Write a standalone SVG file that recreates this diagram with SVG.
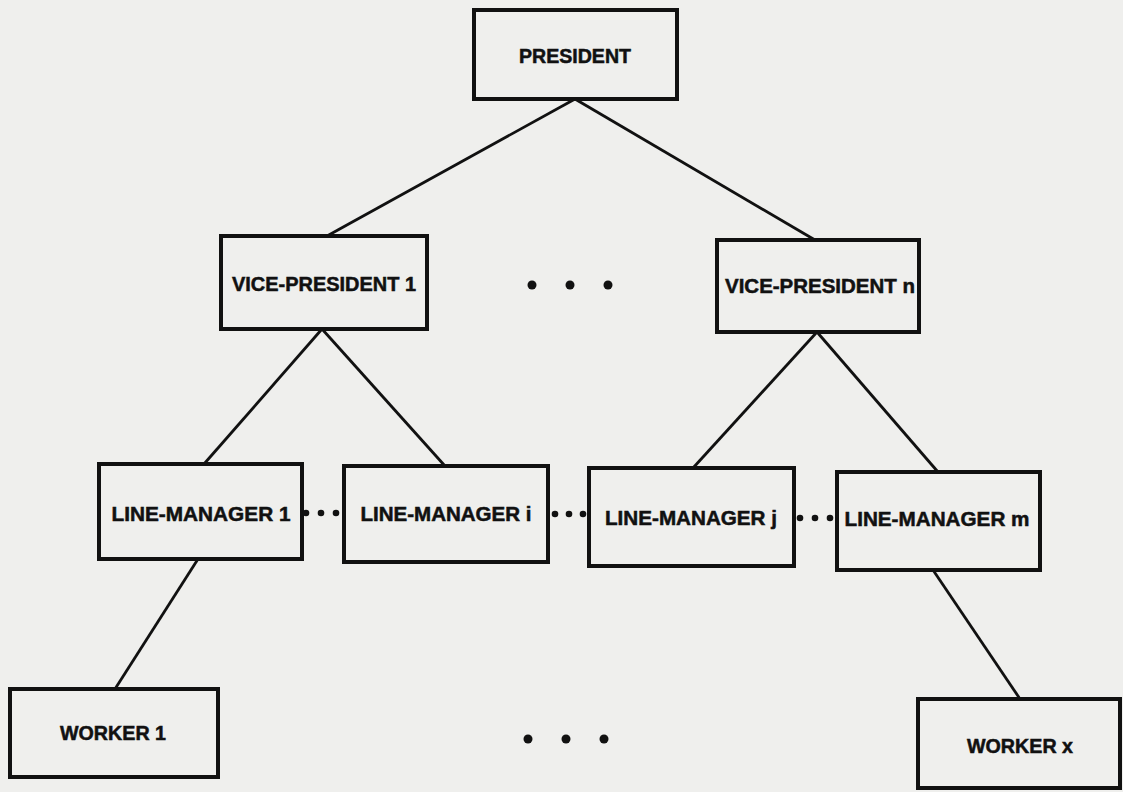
<svg xmlns="http://www.w3.org/2000/svg" width="1123" height="792" viewBox="0 0 1123 792">
<style>
.box{fill:none;stroke:#111;stroke-width:4;stroke-linejoin:miter}
.lbl{font-family:"Liberation Sans",Arial,sans-serif;font-weight:bold;font-size:19.5px;fill:#111;stroke:#111;stroke-width:0.5;text-anchor:middle}
.ln{stroke:#111;stroke-width:2.8;fill:none}
.dot{fill:#111}
</style>
<rect width="1123" height="792" fill="#efefed"/>
<g id="connectors">
<line class="ln" x1="575" y1="99" x2="327" y2="236"/>
<line class="ln" x1="575" y1="99" x2="815" y2="240"/>
<line class="ln" x1="322" y1="329" x2="204" y2="464"/>
<line class="ln" x1="322" y1="329" x2="445" y2="466"/>
<line class="ln" x1="817" y1="332" x2="693" y2="468"/>
<line class="ln" x1="817" y1="332" x2="938" y2="472"/>
<line class="ln" x1="198" y1="559" x2="115" y2="689"/>
<line class="ln" x1="933" y1="570" x2="1020" y2="699"/>
</g>
<g id="president">
<rect class="box" x="474" y="10" width="203" height="89"/>
<text class="lbl" x="575" y="63" textLength="112" lengthAdjust="spacingAndGlyphs">PRESIDENT</text>
</g>
<g id="vp1">
<rect class="box" x="221" y="236" width="206" height="93"/>
<text class="lbl" x="324" y="291" textLength="184" lengthAdjust="spacingAndGlyphs">VICE-PRESIDENT 1</text>
</g>
<g id="vp-dots">
<circle class="dot" cx="532" cy="285" r="4.5"/>
<circle class="dot" cx="570" cy="285" r="4.5"/>
<circle class="dot" cx="608" cy="285" r="4.5"/>
</g>
<g id="vpn">
<rect class="box" x="717" y="240" width="202" height="92"/>
<text class="lbl" x="820" y="293" textLength="190" lengthAdjust="spacingAndGlyphs">VICE-PRESIDENT n</text>
</g>
<g id="lm1">
<rect class="box" x="99" y="464" width="203" height="95"/>
<text class="lbl" x="201" y="521" textLength="179" lengthAdjust="spacingAndGlyphs">LINE-MANAGER 1</text>
</g>
<g id="lm-dots-1">
<circle class="dot" cx="306" cy="513" r="3.3"/>
<circle class="dot" cx="321" cy="513" r="3.3"/>
<circle class="dot" cx="336" cy="513" r="3.3"/>
</g>
<g id="lmi">
<rect class="box" x="344" y="466" width="204" height="96"/>
<text class="lbl" x="446" y="521" textLength="171" lengthAdjust="spacingAndGlyphs">LINE-MANAGER i</text>
</g>
<g id="lm-dots-2">
<circle class="dot" cx="555" cy="514" r="3.3"/>
<circle class="dot" cx="569" cy="514" r="3.3"/>
<circle class="dot" cx="583" cy="514" r="3.3"/>
</g>
<g id="lmj">
<rect class="box" x="589" y="468" width="205" height="98"/>
<text class="lbl" x="691" y="525" textLength="172" lengthAdjust="spacingAndGlyphs">LINE-MANAGER j</text>
</g>
<g id="lm-dots-3">
<circle class="dot" cx="800" cy="518" r="3.3"/>
<circle class="dot" cx="815" cy="518" r="3.3"/>
<circle class="dot" cx="830" cy="518" r="3.3"/>
</g>
<g id="lmm">
<rect class="box" x="837" y="472" width="203" height="98"/>
<text class="lbl" x="937" y="526" textLength="185" lengthAdjust="spacingAndGlyphs">LINE-MANAGER m</text>
</g>
<g id="worker1">
<rect class="box" x="10" y="689" width="208" height="88"/>
<text class="lbl" x="113" y="740" textLength="106" lengthAdjust="spacingAndGlyphs">WORKER 1</text>
</g>
<g id="worker-dots">
<circle class="dot" cx="528" cy="739" r="4.5"/>
<circle class="dot" cx="566" cy="739" r="4.5"/>
<circle class="dot" cx="604" cy="739" r="4.5"/>
</g>
<g id="workerx">
<rect class="box" x="918" y="699" width="202" height="89"/>
<text class="lbl" x="1020" y="753" textLength="106" lengthAdjust="spacingAndGlyphs">WORKER x</text>
</g>
</svg>
